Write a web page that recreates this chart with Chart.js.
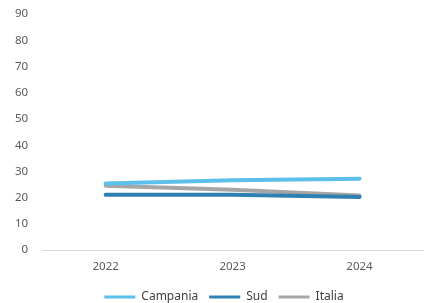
<!DOCTYPE html>
<html>
<head>
<meta charset="utf-8">
<script src="https://cdn.jsdelivr.net/npm/chart.js@4/dist/chart.umd.min.js"></script>
<style>
  html, body { margin: 0; padding: 0; background: #fff; }
  #wrap { width: 433px; height: 303px; }
</style>
</head>
<body>
<div id="wrap"><canvas id="chart" width="433" height="303"></canvas></div>
<script>
var years = ['2022', '2023', '2024'];
var campania = [25.4, 26.7, 27.2];
var sud = [21.1, 21.1, 20.3];
var italia = [24.6, 23.0, 20.8];
var yTicks = [0, 10, 20, 30, 40, 50, 60, 70, 80, 90];

Chart.defaults.font.family = '"Source Sans Pro", "Noto Sans", Lato, sans-serif';
Chart.defaults.color = '#595959';

function serie(label, data, color){
    return {
        label: label,
        data: data,
        borderColor: color,
        backgroundColor: color,
        borderWidth: 4,
        pointRadius: 0,
        tension: 0,
        borderCapStyle: 'round'
    };
}

// legend sits a bit right of the canvas centre, like the original
var legendShift = {
    id: 'legendShift',
    afterLayout: function(chart){
        if(chart.legend){
            chart.legend.left += 12;
            chart.legend.right += 12;
        }
    }
};

new Chart(document.getElementById('chart').getContext('2d'), {
    type: 'line',
    data: {
        labels: years,
        datasets: [
            serie('Campania', campania, '#5BC0EB'),
            serie('Sud', sud, '#2E80B2'),
            serie('Italia', italia, '#A6A6A6')
        ]
    },
    plugins: [legendShift],
    options: {
        responsive: false,
        animation: false,
        layout: { padding: { top: 14, right: 10, left: 1, bottom: -10 } },
        scales: {
            x: {
                offset: true,
                grid: { display: false, drawTicks: false },
                border: { display: true, color: '#D9D9D9', width: 1 },
                ticks: { font: { size: 11.5 }, padding: 10 },
                afterFit: function(scale){
                    // tighter gap between year labels and legend
                    scale.height -= 4;
                }
            },
            y: {
                min: 0,
                max: 90,
                afterBuildTicks: function(axis){
                    axis.ticks = yTicks.map(function(v){ return { value: v }; });
                },
                grid: { display: false, drawTicks: false },
                border: { display: false },
                ticks: { font: { size: 11.5 }, padding: 14 },
                afterFit: function(scale){
                    // tick padding should only be horizontal
                    scale.paddingTop = 7;
                }
            }
        },
        plugins: {
            legend: {
                position: 'bottom',
                labels: {
                    boxWidth: 31,
                    boxHeight: 3,
                    padding: 11,
                    font: { size: 12 },
                    generateLabels: function(chart){
                        return chart.data.datasets.map(function(ds, i){
                            return {
                                text: ds.label,
                                fillStyle: ds.borderColor,
                                strokeStyle: ds.borderColor,
                                lineWidth: 0,
                                datasetIndex: i,
                                fontColor: '#404040'
                            };
                        });
                    }
                }
            },
            tooltip: { enabled: false }
        }
    }
});
</script>
</body>
</html>
